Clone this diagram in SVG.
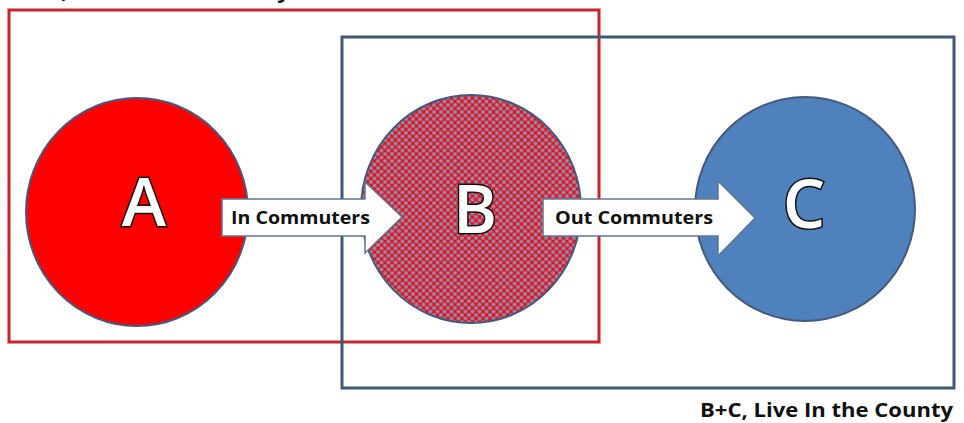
<svg xmlns="http://www.w3.org/2000/svg" width="964" height="423" viewBox="0 0 964 423">
<defs>
<pattern id="dots" width="7" height="7" patternUnits="userSpaceOnUse">
<rect width="7" height="7" fill="#e8131c"/>
<circle cx="0" cy="0" r="2" fill="#9088aa"/>
<circle cx="7" cy="0" r="2" fill="#9088aa"/>
<circle cx="0" cy="7" r="2" fill="#9088aa"/>
<circle cx="7" cy="7" r="2" fill="#9088aa"/>
<circle cx="3.5" cy="3.5" r="2" fill="#9088aa"/>
</pattern>
</defs>
<style>
.circ{stroke:#44597c;stroke-width:2}
.letter{font-family:"Open Sans","Liberation Sans",sans-serif;font-weight:600;font-size:67px;fill:#ffffff;stroke:#111111;stroke-width:3;paint-order:stroke;text-anchor:middle}
.arrow{fill:#ffffff;stroke:#5f7794;stroke-width:1.5}
.alabel{font-family:"Open Sans","Liberation Sans",sans-serif;font-weight:700;font-size:17px;fill:#111111}
.title{font-family:"Open Sans","Liberation Sans",sans-serif;font-weight:700;font-size:20px;fill:#111111}
.box{fill:none;stroke-width:3}
</style>
<rect width="964" height="423" fill="#ffffff"/>
<text class="title" x="18" y="-2" textLength="272" lengthAdjust="spacingAndGlyphs">A+B, Work In the County</text>
<g id="region-work">
<rect class="box" x="9" y="10" width="590" height="332" stroke="#c4262c"/>
</g>
<g id="region-live">
<rect class="box" x="342" y="37" width="612" height="351" stroke="#3f5872"/>
<text class="title" x="700" y="417" textLength="253" lengthAdjust="spacingAndGlyphs">B+C, Live In the County</text>
</g>
<g id="node-A">
<ellipse class="circ" cx="137" cy="212" rx="111" ry="114" fill="#ff0000"/>
<text class="letter" x="144" y="226">A</text>
</g>
<g id="node-B">
<ellipse class="circ" cx="471" cy="209" rx="110" ry="114" fill="url(#dots)"/>
<text class="letter" x="475" y="233">B</text>
</g>
<g id="node-C">
<ellipse class="circ" cx="805" cy="209" rx="110" ry="112" fill="#4f81bd" stroke="#3c6190"/>
<text class="letter" x="804" y="228">C</text>
</g>
<g id="connectors">
<g id="arrow-in">
<path class="arrow" d="M222,199 H365 V182 L402,217 L365,253 V236 H222 Z"/>
<text class="alabel" x="231" y="224" textLength="139" lengthAdjust="spacingAndGlyphs">In Commuters</text>
</g>
<g id="arrow-out">
<path class="arrow" d="M543,199 H718 V181 L755,218 L718,256 V236 H543 Z"/>
<text class="alabel" x="555" y="224" textLength="158" lengthAdjust="spacingAndGlyphs">Out Commuters</text>
</g>
</g>
</svg>
